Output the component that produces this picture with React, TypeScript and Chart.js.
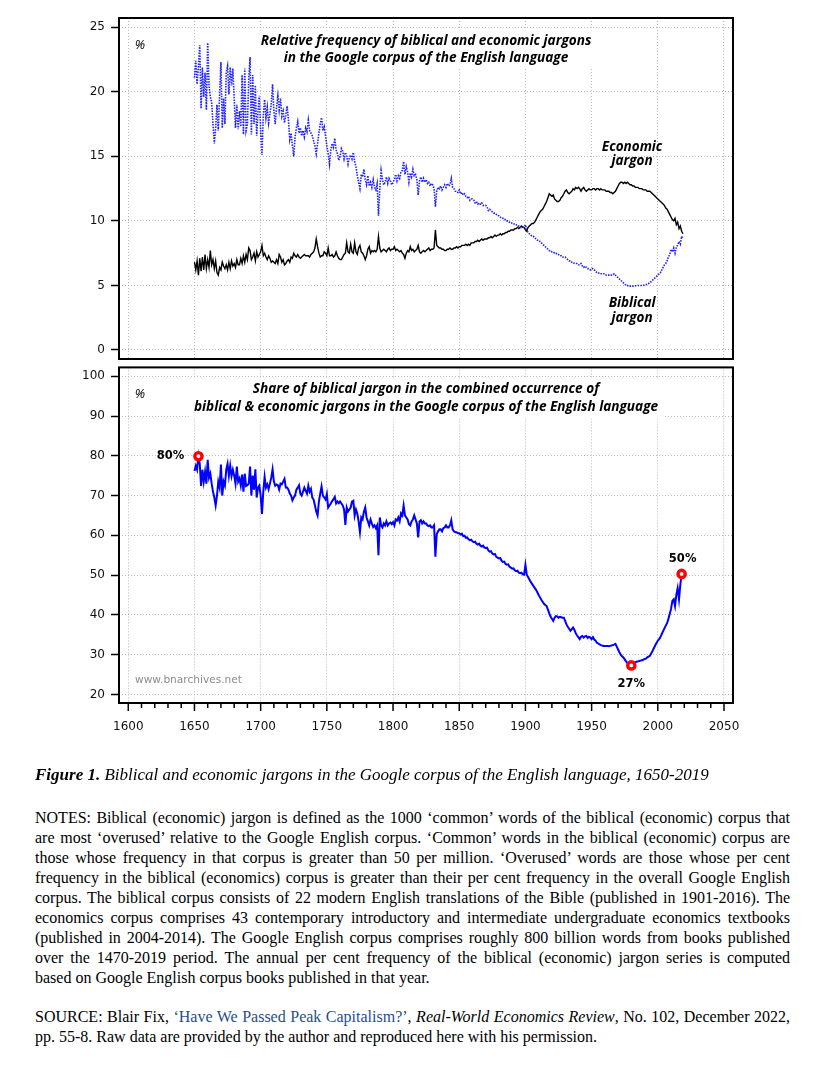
import React, { useEffect, useRef } from 'react';
import { Chart, registerables } from 'chart.js';

Chart.register(...registerables);
Chart.defaults.font.family = 'DejaVu Sans';

// ---------------- DATA ----------------
const firstYear = 1650; // annual series 1650-2019

// Relative frequency of biblical jargon (%)
const biblical = [
  21.1, 22.4, 20.6, 22.0, 23.6, 18.7, 21.9, 19.6, 21.5, 18.6,
  23.8, 20.5, 19.6, 19.2, 17.5, 16.0, 17.2, 19.0, 17.0, 19.8,
  22.3, 17.2, 19.5, 17.5, 21.5, 22.0, 19.8, 21.9, 20.5, 21.8,
  19.5, 17.2, 19.0, 17.1, 18.5, 17.3, 21.3, 16.7, 21.8, 17.0,
  17.5, 21.0, 22.7, 16.7, 21.3, 17.5, 20.5, 16.6, 18.5, 19.7,
  17.0, 15.1, 18.2, 19.4, 18.0, 18.8, 17.6, 18.3, 19.0, 20.6,
  18.5, 17.5, 18.8, 19.7, 18.6, 19.5, 18.1, 18.5, 17.6, 18.2,
  18.9, 17.8, 16.3, 16.8, 15.8, 15.0, 16.5, 17.2, 17.7, 16.8,
  17.2, 16.6, 17.0, 16.5, 17.2, 16.9, 17.8, 17.0, 16.8, 16.6,
  16.2, 15.8, 15.2, 16.0, 16.8, 17.5, 18.0, 17.0, 17.3, 16.6,
  15.8, 15.2, 14.4, 15.5, 16.0, 15.7, 16.4, 15.5, 15.2, 14.7,
  15.0, 15.6, 15.4, 14.8, 15.3, 15.0, 14.4, 14.9, 15.1, 14.8,
  15.3, 14.6, 14.2, 13.5, 13.0, 12.5, 13.6, 13.4, 14.0, 13.2,
  12.8, 13.5, 12.7, 13.0, 12.6, 13.2, 12.6, 12.4, 12.9, 10.4,
  12.5, 13.9, 13.2, 12.8, 13.0, 13.4, 12.9, 13.3, 13.1, 12.8,
  13.0, 13.2, 13.6, 13.1, 13.5, 13.3, 13.8, 13.9, 14.6, 13.6,
  14.2, 13.8, 13.0, 13.7, 13.4, 14.0, 13.5, 13.6, 13.2, 12.0,
  13.1, 13.4, 13.0, 13.3, 13.0, 13.2, 12.9, 13.0, 12.7, 12.9,
  12.8, 12.5, 11.1, 12.3, 12.6, 12.5, 12.7, 12.4, 12.6, 12.8,
  12.6, 12.9, 12.7, 12.8, 13.3, 12.6, 12.5, 12.3, 12.3, 12.2,
  12.4, 12.1, 12.2, 12.0, 12.1, 11.9, 11.8, 11.9, 11.6, 11.7,
  11.7, 11.6, 11.4, 11.5, 11.3, 11.4, 11.3, 11.4, 11.2, 11.2,
  11.2, 11.1, 10.8, 10.9, 10.8, 10.7, 10.6, 10.6, 10.5, 10.4,
  10.4, 10.3, 10.2, 10.2, 10.1, 10.1, 10.0, 10.0, 9.9, 9.9,
  9.8, 9.8, 9.7, 9.7, 9.6, 9.6, 9.5, 9.5, 9.5, 9.5,
  9.7, 9.3, 9.1, 9.0, 8.9, 8.8, 8.8, 8.7, 8.6, 8.5,
  8.5, 8.4, 8.3, 8.2, 8.1, 8.0, 7.9, 7.8, 7.7, 7.7,
  7.6, 7.6, 7.5, 7.5, 7.4, 7.4, 7.3, 7.3, 7.2, 7.2,
  7.2, 7.1, 7.0, 6.9, 6.9, 6.8, 6.8, 6.7, 6.7, 6.7,
  6.6, 6.6, 6.7, 6.5, 6.4, 6.5, 6.4, 6.3, 6.3, 6.2,
  6.3, 6.3, 6.2, 6.1, 6.0, 6.0, 5.9, 5.9, 5.9, 5.9,
  5.9, 5.8, 5.8, 5.8, 5.8, 5.8, 5.8, 5.9, 5.8, 5.7,
  5.6, 5.5, 5.4, 5.3, 5.2, 5.1, 5.0, 5.0, 4.95, 4.95,
  4.95, 4.95, 4.95, 4.97, 4.98, 5.0, 5.0, 5.0, 5.0, 5.0,
  5.05, 5.05, 5.1, 5.15, 5.2, 5.3, 5.4, 5.5, 5.6, 5.7,
  5.8, 5.9, 6.0, 6.2, 6.4, 6.6, 6.7, 6.9, 7.2, 7.4,
  7.8, 7.6, 7.9, 7.5, 8.0, 8.1, 8.4, 8.2, 8.8, 8.6,
];

// Relative frequency of economic jargon (%)
const economic = [
  6.8, 6.2, 6.9, 5.8, 7.1, 6.1, 7.2, 6.2, 7.4, 6.3,
  7.0, 6.4, 7.7, 6.6, 7.0, 6.3, 6.9, 6.0, 5.8, 6.4,
  6.2, 6.8, 6.5, 6.3, 6.6, 6.2, 6.8, 6.3, 6.9, 6.5,
  6.7, 6.4, 7.0, 6.6, 6.6, 7.1, 6.7, 7.3, 6.8, 7.4,
  7.0, 7.9, 7.7, 7.0, 7.2, 7.5, 6.9, 7.6, 7.2, 7.4,
  7.6, 8.1, 7.3, 7.5, 7.2, 7.0, 7.3, 7.1, 6.8, 6.9,
  6.8, 6.7, 7.0, 6.7, 7.4, 7.2, 6.8, 7.0, 6.6, 6.7,
  6.9, 7.0, 6.8, 7.2, 7.1, 7.5, 7.3, 7.2, 7.4, 7.2,
  7.1, 7.2, 7.3, 7.4, 7.3, 7.3, 7.3, 7.2, 7.4, 7.5,
  7.6, 7.9, 8.6, 8.0, 7.5, 7.2, 7.3, 7.3, 7.6, 7.5,
  7.3, 7.9, 7.3, 7.3, 7.4, 7.2, 7.3, 7.6, 7.3, 7.1,
  7.0, 7.0, 7.2, 7.4, 7.5, 8.3, 7.6, 7.5, 8.2, 7.6,
  7.5, 8.3, 7.6, 7.4, 7.9, 8.1, 7.6, 7.5, 7.3, 7.0,
  7.3, 7.8, 8.0, 7.5, 7.7, 7.6, 7.7, 7.6, 7.8, 8.8,
  7.9, 7.6, 7.7, 7.8, 7.7, 7.6, 7.8, 7.9, 7.7, 7.8,
  7.8, 8.0, 7.7, 7.8, 7.7, 7.6, 7.7, 7.5, 7.4, 7.1,
  7.5, 7.7, 7.6, 8.0, 7.7, 7.8, 7.6, 7.7, 7.8, 8.1,
  7.6, 7.5, 7.6, 7.7, 7.6, 7.7, 7.8, 7.9, 7.7, 7.8,
  7.8, 7.9, 9.3, 8.1, 8.0, 7.9, 7.9, 7.8, 7.8, 7.7,
  7.7, 7.8, 7.8, 7.9, 7.8, 7.8, 7.9, 7.9, 8.0, 7.9,
  8.0, 8.0, 8.1, 8.1, 8.1, 8.2, 8.1, 8.2, 8.1, 8.3,
  8.3, 8.3, 8.4, 8.4, 8.5, 8.4, 8.5, 8.6, 8.5, 8.6,
  8.6, 8.6, 8.7, 8.7, 8.8, 8.7, 8.8, 8.9, 8.8, 8.9,
  8.9, 9.0, 8.9, 9.0, 9.0, 9.1, 9.1, 9.2, 9.2, 9.3,
  9.3, 9.3, 9.4, 9.4, 9.5, 9.4, 9.5, 9.6, 9.5, 9.5,
  9.3, 9.2, 9.5, 9.6, 9.7, 9.8, 9.8, 9.9, 10.1, 10.3,
  10.5, 10.7, 10.8, 10.9, 11.1, 11.3, 11.5, 11.8, 12.1, 12.0,
  11.9, 12.0, 11.7, 11.6, 11.5, 11.5, 11.6, 11.8, 11.9, 12.1,
  12.3, 12.4, 12.2, 12.1, 12.2, 12.3, 12.5, 12.4, 12.6, 12.5,
  12.6, 12.5, 12.3, 12.5, 12.6, 12.4, 12.3, 12.4, 12.5, 12.4,
  12.4, 12.5, 12.5, 12.4, 12.5, 12.5, 12.4, 12.5, 12.4, 12.4,
  12.4, 12.3, 12.3, 12.3, 12.2, 12.2, 12.1, 12.2, 12.3, 12.5,
  12.7, 12.9, 13.0, 13.0, 12.9, 13.0, 12.9, 13.0, 12.9, 12.8,
  12.8, 12.7, 12.7, 12.6, 12.6, 12.6, 12.5, 12.5, 12.5, 12.4,
  12.4, 12.4, 12.3, 12.3, 12.3, 12.2, 12.1, 12.0, 11.9, 11.8,
  11.7, 11.6, 11.5, 11.4, 11.3, 11.2, 11.0, 10.9, 10.7, 10.5,
  10.3, 10.1, 10.0, 10.2, 9.7, 9.9, 9.4, 9.6, 9.2, 9.0,
];

// Share of biblical jargon in combined occurrence (%)
const share = [
  76.2, 77.5, 76.5, 79.9, 78.0, 72.4, 76.5, 73.5, 76.0, 73.0,
  79.0, 74.5, 75.5, 73.0, 71.0, 69.5, 67.5, 70.0, 73.5, 72.0,
  77.8, 70.0, 73.5, 72.5, 76.5, 78.0, 75.0, 77.5, 74.9, 76.5,
  75.0, 73.0, 77.3, 73.5, 74.3, 72.5, 75.3, 71.0, 75.5, 72.4,
  72.6, 73.0, 77.3, 70.0, 75.0, 71.5, 76.6, 69.5, 72.0, 72.5,
  70.0, 65.4, 71.0, 74.7, 72.0, 72.8, 71.6, 73.0, 74.5, 76.6,
  73.5, 72.5, 72.8, 72.6, 71.5, 73.0, 72.8, 73.5, 74.2, 72.0,
  72.0, 71.5, 70.5, 70.0, 68.8, 69.5, 70.0, 71.5, 72.0, 72.6,
  70.5, 70.0, 71.0, 72.0, 71.2, 70.5, 72.5, 71.0, 71.7, 69.5,
  69.0, 67.5, 66.0, 65.0, 68.5, 70.5, 72.3, 70.0, 69.5, 69.0,
  70.4, 67.0, 67.5, 68.0, 68.6, 69.1, 69.7, 68.0, 68.5, 68.1,
  68.5, 68.0, 67.5, 66.5, 62.6, 67.0, 66.0, 66.5, 67.0, 68.5,
  68.7, 65.0, 66.5, 65.5, 63.5, 60.8, 64.5, 64.0, 66.0, 67.0,
  64.5, 63.5, 62.5, 64.0, 63.0, 62.1, 62.5, 61.8, 62.5, 55.0,
  64.5, 62.5, 62.0, 63.0, 62.5, 63.5, 62.5, 63.0, 63.2, 62.8,
  63.3, 62.5, 64.0, 63.7, 64.5, 63.5, 65.5, 65.0, 67.5, 65.0,
  64.5, 64.0, 62.8, 62.5, 63.5, 64.0, 65.0, 64.0, 63.0, 59.5,
  63.5, 63.8, 63.0, 63.5, 63.0, 63.0, 62.5, 62.3, 62.5, 62.0,
  62.0, 62.5, 54.6, 60.3, 61.0, 61.5, 61.5, 61.0, 61.8, 62.0,
  62.5, 62.0, 62.0, 62.5, 63.8, 61.5, 61.0, 60.8, 60.8, 60.5,
  60.5, 60.2, 60.4, 59.8, 59.9, 59.4, 59.5, 59.0, 58.8, 58.9,
  58.5, 58.3, 58.4, 57.9, 57.7, 57.9, 57.4, 57.2, 57.4, 56.9,
  56.8, 56.9, 56.2, 55.9, 56.0, 55.4, 55.2, 55.3, 54.6, 54.4,
  54.2, 54.3, 53.6, 53.3, 53.4, 52.8, 52.6, 52.7, 52.1, 51.9,
  51.6, 51.7, 51.2, 51.0, 51.1, 50.6, 50.5, 50.6, 50.2, 50.1,
  52.6, 50.1, 49.5, 48.9, 48.3, 47.8, 47.3, 46.8, 46.3, 45.7,
  45.0, 44.4, 43.8, 43.3, 42.8, 42.5, 42.2, 41.3, 40.4, 39.6,
  39.0, 38.5, 39.3, 39.7, 39.6, 39.3, 39.5, 39.4, 39.3, 39.3,
  38.5, 37.6, 37.0, 36.5, 36.0, 36.4, 36.8, 36.2, 35.4, 34.8,
  34.4, 33.9, 34.5, 34.7, 34.3, 34.6, 34.7, 34.2, 34.5, 34.3,
  33.9, 34.4, 33.8, 33.5, 33.0, 32.8, 32.6, 32.4, 32.3, 32.2,
  32.2, 32.2, 32.2, 32.1, 32.2, 32.3, 32.4, 32.5, 32.7, 32.0,
  31.3, 30.6, 30.0, 29.6, 29.3, 28.8, 28.3, 27.9, 27.6, 27.4,
  27.3, 27.6, 27.9, 28.1, 28.2, 28.3, 28.4, 28.5, 28.6, 28.7,
  28.9, 29.0, 29.3, 29.5, 29.7, 30.3, 30.9, 31.6, 32.3, 32.9,
  33.5, 33.9, 34.4, 35.2, 35.9, 36.6, 37.3, 37.9, 39.0, 40.2,
  41.5, 43.5, 43.9, 42.2, 45.0, 46.7, 43.9, 47.5, 50.3, 49.0,
];

const markerYears = [1653, 1980, 2018];
const markerValues = [79.9, 27.3, 50.3];
const markerLabels = ['80%', '27%', '50%'];

const xMajorTicks = [1600, 1650, 1700, 1750, 1800, 1850, 1900, 1950, 2000, 2050];
const xMinorTicks = [
  1600, 1610, 1620, 1630, 1640, 1650, 1660, 1670, 1680, 1690,
  1700, 1710, 1720, 1730, 1740, 1750, 1760, 1770, 1780, 1790,
  1800, 1810, 1820, 1830, 1840, 1850, 1860, 1870, 1880, 1890,
  1900, 1910, 1920, 1930, 1940, 1950, 1960, 1970, 1980, 1990,
  2000, 2010, 2020, 2030, 2040, 2050,
];
const topYTicks = [0, 5, 10, 15, 20, 25];
const bottomYTicks = [20, 30, 40, 50, 60, 70, 80, 90, 100];

const topTitle = [
  'Relative frequency of biblical and economic jargons',
  'in the Google corpus of the English language',
];
const bottomTitle = [
  'Share of biblical jargon in the combined occurrence of',
  'biblical & economic jargons in the Google corpus of the English language',
];
const econLabel = ['Economic', 'jargon'];
const biblLabel = ['Biblical', 'jargon'];
const watermark = 'www.bnarchives.net';

const notesLines = [
  'NOTES: Biblical (economic) jargon is defined as the 1000 \u2018common\u2019 words of the biblical (economic) corpus that',
  'are most \u2018overused\u2019 relative to the Google English corpus. \u2018Common\u2019 words in the biblical (economic) corpus are',
  'those whose frequency in that corpus is greater than 50 per million. \u2018Overused\u2019 words are those whose per cent',
  'frequency in the biblical (economics) corpus is greater than their per cent frequency in the overall Google English',
  'corpus. The biblical corpus consists of 22 modern English translations of the Bible (published in 1901-2016). The',
  'economics corpus comprises 43 contemporary introductory and intermediate undergraduate economics textbooks',
  '(published in 2004-2014). The Google English corpus comprises roughly 800 billion words from books published',
  'over the 1470-2019 period. The annual per cent frequency of the biblical (economic) jargon series is computed',
  'based on Google English corpus books published in that year.',
];

// ---------------- STYLE ----------------
const GRID = '#b9b9b9';
const TICK_FONT = { family: 'DejaVu Sans', size: 12 };
const TITLE_FONT = 'italic bold 13.6px "Open Sans"';
const LABEL_FONT = 'italic bold 13.5px "Open Sans"';
const PCT_FONT = 'bold 11.5px "DejaVu Sans"';
const PERCENT_SIGN_FONT = 'italic 13px "Open Sans"';
const markerLabelOffsets = [[-28, 0], [0, 19], [1, -14.5]];

function pts(values: number[]) {
  return values.map((v, i) => ({ x: firstYear + i, y: v }));
}

function fixScale(width?: number, height?: number) {
  return (scale: any) => {
    if (width !== undefined) scale.width = width;
    if (height !== undefined) scale.height = height;
    scale.paddingTop = 0;
    scale.paddingBottom = 0;
    scale.paddingLeft = 0;
    scale.paddingRight = 0;
  };
}

function drawLines(ctx: CanvasRenderingContext2D, lines: string[], cx: number, y0: number, lh: number,
  font: string, color: string, box: boolean, align: CanvasTextAlign = 'center') {
  ctx.save();
  ctx.font = font;
  ctx.textAlign = align;
  ctx.textBaseline = 'middle';
  if (box) {
    const w = Math.max(...lines.map((l) => ctx.measureText(l).width));
    const left = align === 'center' ? cx - w / 2 : cx;
    ctx.fillStyle = '#fff';
    ctx.fillRect(left - 5, y0 - lh / 2 - 2, w + 10, lh * lines.length + 4);
  }
  ctx.fillStyle = color;
  lines.forEach((l, i) => ctx.fillText(l, cx, y0 + i * lh));
  ctx.restore();
}

function drawFrame(chart: any) {
  const { ctx, chartArea: a } = chart;
  ctx.save();
  ctx.strokeStyle = '#000';
  ctx.lineWidth = 2;
  ctx.strokeRect(a.left, a.top, a.right - a.left, a.bottom - a.top);
  ctx.restore();
}

const xRange = { min: 1593, max: 2056.8 };

function yScale(min: number, max: number, ticks: number[]) {
  return {
    type: 'linear',
    min,
    max,
    afterBuildTicks: (s: any) => { s.ticks = ticks.map((v) => ({ value: v })); },
    afterFit: fixScale(119),
    ticks: { font: TICK_FONT, color: '#111', padding: 6, callback: (v: any) => String(v) },
    grid: { color: GRID, lineWidth: 1, drawTicks: true, tickLength: 8, tickColor: '#000', tickWidth: 1.5 },
    border: { display: false, dash: [1, 2] },
  };
}

const topOverlay = {
  id: 'topOverlay',
  beforeDatasetsDraw(chart: any) {
    const { ctx, chartArea: a, scales } = chart;
    const cx = (a.left + a.right) / 2;
    drawLines(ctx, topTitle, cx, a.top + 23, 17, TITLE_FONT, '#000', true);
    drawLines(ctx, ['%'], a.left + 21, a.top + 27, 14, PERCENT_SIGN_FONT, '#000', false);
    drawLines(ctx, econLabel, scales.x.getPixelForValue(1980.6), scales.y.getPixelForValue(15.7), 14, LABEL_FONT, '#000', false);
    drawLines(ctx, biblLabel, scales.x.getPixelForValue(1980.6), scales.y.getPixelForValue(3.6), 15, LABEL_FONT, '#000', false);
  },
  afterDraw(chart: any) {
    drawFrame(chart);
  },
};

const bottomOverlay = {
  id: 'bottomOverlay',
  beforeDatasetsDraw(chart: any) {
    const { ctx, chartArea: a } = chart;
    const cx = (a.left + a.right) / 2;
    drawLines(ctx, bottomTitle, cx, a.top + 22, 18, TITLE_FONT, '#000', true);
    drawLines(ctx, ['%'], a.left + 21, a.top + 27, 14, PERCENT_SIGN_FONT, '#000', false);
    drawLines(ctx, [watermark], a.left + 16, a.bottom - 23, 14, '10.6px "DejaVu Sans"', '#8c8c8c', true, 'left');
  },
  afterDraw(chart: any) {
    const { ctx, chartArea: a, scales } = chart;
    drawFrame(chart);
    // tick marks on x axis
    ctx.save();
    ctx.strokeStyle = '#000';
    ctx.lineWidth = 1.5;
    xMinorTicks.forEach((v) => {
      const px = scales.x.getPixelForValue(v);
      const len = xMajorTicks.includes(v) ? 8 : 5;
      ctx.beginPath();
      ctx.moveTo(px, a.bottom);
      ctx.lineTo(px, a.bottom + len);
      ctx.stroke();
    });
    ctx.restore();
    markerYears.forEach((yr, i) => {
      const px = scales.x.getPixelForValue(yr) + markerLabelOffsets[i][0];
      const py = scales.y.getPixelForValue(markerValues[i]) + markerLabelOffsets[i][1];
      drawLines(ctx, [markerLabels[i]], px, py, 14, PCT_FONT, '#000', false);
    });
  },
};

export default function App() {
  const topRef = useRef<HTMLCanvasElement>(null);
  const botRef = useRef<HTMLCanvasElement>(null);

  useEffect(() => {
    const top = new Chart(topRef.current as HTMLCanvasElement, {
      type: 'line',
      data: {
        datasets: [
          {
            data: pts(biblical), borderColor: '#1f1fff', borderWidth: 1.6, borderDash: [1.5, 1.2],
            pointRadius: 0, tension: 0,
          },
          { data: pts(economic), borderColor: '#000', borderWidth: 1.4, pointRadius: 0, tension: 0 },
        ],
      } as any,
      options: {
        animation: false,
        responsive: false,
        events: [],
        layout: { padding: { top: 18, right: 81, bottom: 3, left: 0 } },
        plugins: { legend: { display: false }, tooltip: { enabled: false } },
        scales: {
          x: {
            type: 'linear', ...xRange,
            afterBuildTicks: (s: any) => { s.ticks = xMajorTicks.map((v) => ({ value: v })); },
            afterFit: fixScale(undefined, 0),
            ticks: { display: false, autoSkip: false },
            grid: { color: GRID, lineWidth: 1, drawTicks: false },
            border: { display: false, dash: [1, 2] },
          },
          y: yScale(-0.7, 25.72, topYTicks),
        },
      } as any,
      plugins: [topOverlay],
    });

    const bot = new Chart(botRef.current as HTMLCanvasElement, {
      type: 'line',
      data: {
        datasets: [
          {
            data: markerYears.map((yr, i) => ({ x: yr, y: markerValues[i] })),
            showLine: false, pointRadius: 3.6, pointBorderWidth: 3.4,
            pointBorderColor: '#ff0000', pointBackgroundColor: '#ffffff',
          },
          { data: pts(share), borderColor: '#0000ff', borderWidth: 2, pointRadius: 0, tension: 0 },
        ],
      } as any,
      options: {
        animation: false,
        responsive: false,
        events: [],
        layout: { padding: { top: 3, right: 81, bottom: 17, left: 0 } },
        plugins: { legend: { display: false }, tooltip: { enabled: false } },
        scales: {
          x: {
            type: 'linear', ...xRange,
            afterBuildTicks: (s: any) => { s.ticks = xMajorTicks.map((v) => ({ value: v })); },
            afterFit: fixScale(undefined, 40),
            ticks: { font: TICK_FONT, color: '#111', padding: 17, autoSkip: false, maxRotation: 0, callback: (v: any) => String(v) },
            grid: { color: GRID, lineWidth: 1, drawTicks: false },
            border: { display: false, dash: [1, 2] },
          },
          y: yScale(17.84, 102.23, bottomYTicks),
        },
      } as any,
      plugins: [bottomOverlay],
    });

    return () => {
      top.destroy();
      bot.destroy();
    };
  }, []);

  const serif = '"Liberation Serif", "Times New Roman", serif';
  const justified: React.CSSProperties = { textAlign: 'justify', textAlignLast: 'justify', whiteSpace: 'nowrap', height: 20 };

  return (
    <div style={{ position: 'absolute', left: 0, top: 0, width: 814, height: 1076, background: '#fff', overflow: 'hidden' }}>
      <canvas ref={topRef} width={814} height={362} style={{ position: 'absolute', left: 0, top: 0 }} />
      <canvas ref={botRef} width={814} height={400} style={{ position: 'absolute', left: 0, top: 360 }} />
      <div style={{ position: 'absolute', left: 35, top: 765, fontFamily: serif, fontSize: 17, lineHeight: '20px', color: '#000', whiteSpace: 'nowrap' }}>
        <b><i>Figure 1.</i></b> <i>Biblical and economic jargons in the Google corpus of the English language, 1650-2019</i>
      </div>
      <div style={{ position: 'absolute', left: 35, top: 808, width: 755, fontFamily: serif, fontSize: 16, lineHeight: '20px', color: '#000' }}>
        {notesLines.map((l, i) => (
          <div key={i} style={i < notesLines.length - 1 ? justified : { whiteSpace: 'nowrap', height: 20 }}>{l}</div>
        ))}
      </div>
      <div style={{ position: 'absolute', left: 35, top: 1007, width: 755, fontFamily: serif, fontSize: 16, lineHeight: '19.5px', color: '#000' }}>
        <div style={{ ...justified, height: 19.5 }}>
          SOURCE: Blair Fix, <span style={{ color: '#1f4e8c' }}>{'\u2018Have We Passed Peak Capitalism?\u2019'}</span>, <i>Real-World Economics Review</i>, No. 102, December 2022,
        </div>
        <div style={{ whiteSpace: 'nowrap', height: 19.5 }}>pp. 55-8. Raw data are provided by the author and reproduced here with his permission.</div>
      </div>
    </div>
  );
}
